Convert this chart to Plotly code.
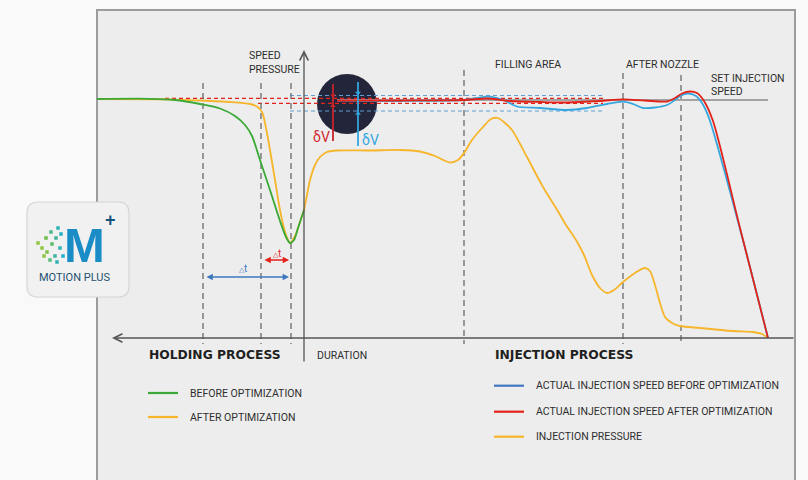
import plotly.graph_objects as go

# ---------------- data (x = time position, y = screen level) -------------
green_x = [97, 150, 175, 200, 220, 235, 245, 252, 260, 270, 280, 286, 290, 294, 298, 304]
green_y = [99, 98.8, 100, 104, 108.5, 116, 125, 136, 160, 190, 221, 237, 243, 240, 228, 210]

after_x = [97, 165, 200, 230, 250, 257, 262, 266, 270, 275, 280, 285, 288, 290, 295, 300, 304]
after_y = [99, 99.3, 100.5, 102, 104, 106.5, 112, 128, 150, 180, 210, 232, 240, 243, 236, 222, 210]

pressure_x = [304, 307, 310, 315, 320, 327, 337, 370, 400, 420, 435, 450, 458, 464, 472, 483, 491, 498,
              505, 512, 527, 543, 556, 566, 576, 584, 592, 600, 607, 614, 623, 635, 645, 650, 655, 660,
              665, 672, 680, 700, 733, 753, 762, 768]
pressure_y = [210, 195, 180, 165, 157, 152, 150.5, 150.5, 150, 151.5, 156, 162.5, 160, 153, 140, 127, 119, 118,
              123, 130, 157, 187, 208, 225, 240, 255, 275, 288, 293, 290, 282, 273, 268, 271, 285, 303,
              317, 323, 326, 328, 331, 332, 334, 338]

speed_before_x = [337, 400, 463, 478, 487, 497, 507, 517, 540, 567, 587, 607, 623, 633, 643, 655, 667,
                  675, 680, 688, 696, 702, 709, 740, 768]
speed_before_y = [100.7, 101, 100, 98, 96.7, 98, 101.7, 106.5, 108, 110, 108, 104, 101.7, 104, 108, 107.5, 105,
                  100, 96, 93.5, 96, 103, 118, 229, 338]

speed_after_x = [337, 400, 464, 487, 510, 540, 567, 600, 623, 645, 667, 675, 682, 690, 697, 704, 713,
                 740, 768]
speed_after_y = [100.5, 100.5, 100, 98.5, 101, 102, 102.5, 101, 99.3, 100.5, 101.5, 98, 93.5, 91.5, 93, 101,
                 121, 228, 338]

set_speed_x = [337, 768]
set_speed_y = [100, 100]

phase_x = [203, 261, 291, 464, 623, 681]
phase_top = [83, 83, 83, 70, 73, 75]

tol_red = [98.3, 103.3]
tol_blue = [95.5, 111]

logo_dot_x = [38, 42, 46, 47, 51, 52, 55, 56, 58, 60, 61, 63, 44, 50, 57]
logo_dot_y = [243, 248, 238, 252, 232, 244, 256, 238, 228, 248, 234, 256, 256, 260, 262]
logo_dot_c = ["#8dc63f", "#8dc63f", "#6cbf4a", "#7cc24a", "#4db98a", "#5cbd6f", "#3fb3a0",
              "#3fb39a", "#2db3b4", "#30b2b6", "#27b0c4", "#22aecd", "#8dc63f", "#56bb7b", "#2fb1b3"]

# ---------------- styles ----------------
GREEN = "#3aa935"
YELLOW = "#f6b52a"
RED = "#e2231a"
BLUE = "#33a6de"
BLUE_LEG = "#3f78c0"
TXT = "#2e2e2e"
NARROW = "Liberation Sans Narrow, Arial Narrow, Roboto, sans-serif"
WIDE = "DejaVu Sans, Verdana, sans-serif"
FS = 10.5

fig = go.Figure()

shapes = []
# panel
shapes.append(dict(type="rect", x0=97, x1=795, y0=10, y1=490, fillcolor="#ededed",
                   line=dict(color="#9c9c9c", width=2), layer="below"))
# logo box
x0, x1, y0, y1, r = 27, 129, 202, 297, 11
path = (f"M{x0+r},{y0} L{x1-r},{y0} Q{x1},{y0} {x1},{y0+r} L{x1},{y1-r} Q{x1},{y1} {x1-r},{y1} "
        f"L{x0+r},{y1} Q{x0},{y1} {x0},{y1-r} L{x0},{y0+r} Q{x0},{y0} {x0+r},{y0} Z")
shapes.append(dict(type="path", path=path, fillcolor="#f1f1f1", line=dict(color="#d6d6d6", width=1.2),
                   layer="below"))
# circle
shapes.append(dict(type="circle", x0=317, x1=377, y0=74, y1=134, fillcolor="#23253a",
                   line=dict(width=0), layer="below"))
# tolerance dashed lines
shapes.append(dict(type="line", x0=165, x1=603, y0=tol_red[0], y1=tol_red[0],
                   line=dict(color=RED, width=1.2, dash="4px,3px"), layer="below"))
shapes.append(dict(type="line", x0=258, x1=603, y0=tol_red[1], y1=tol_red[1],
                   line=dict(color=RED, width=1.2, dash="4px,3px"), layer="below"))
for yv in tol_blue:
    shapes.append(dict(type="line", x0=290, x1=603, y0=yv, y1=yv,
                       line=dict(color="#5f9fd6", width=1.2, dash="4px,3px"), layer="below"))
# phase dashed verticals
for xv, yt in zip(phase_x, phase_top):
    shapes.append(dict(type="line", x0=xv, x1=xv, y0=yt, y1=344,
                       line=dict(color="#6a6a6a", width=1.3, dash="6px,4px"), layer="below"))
# dV lines
shapes.append(dict(type="line", x0=333, x1=333, y0=84, y1=141, line=dict(color="#c8242b", width=1.8),
                   layer="above"))
shapes.append(dict(type="line", x0=358, x1=358, y0=82, y1=146, line=dict(color=BLUE, width=1.8),
                   layer="above"))

# ---------------- traces ----------------
def line(x, y, color, width=1.8, shape="spline"):
    fig.add_trace(go.Scatter(x=x, y=y, mode="lines", line=dict(color=color, width=width, shape=shape,
                                                               smoothing=0.8),
                             showlegend=False, hoverinfo="skip"))

line(set_speed_x, set_speed_y, "#a3a3a3", 2.2, "linear")
line(pressure_x, pressure_y, YELLOW)
line(after_x, after_y, YELLOW)
line(green_x, green_y, GREEN)
line(speed_before_x, speed_before_y, BLUE)
line(speed_after_x, speed_after_y, RED)

# dV arrowheads
fig.add_trace(go.Scatter(x=[333, 333], y=[tol_red[0] - 2.5, tol_red[1] + 2.5], mode="markers",
                         marker=dict(symbol=["triangle-down", "triangle-up"], size=5, color="#c8242b"),
                         showlegend=False, hoverinfo="skip"))
fig.add_trace(go.Scatter(x=[358, 358], y=[tol_blue[0] - 2.5, tol_blue[1] + 2.5], mode="markers",
                         marker=dict(symbol=["triangle-down", "triangle-up"], size=5, color=BLUE),
                         showlegend=False, hoverinfo="skip"))

# logo dots
fig.add_trace(go.Scatter(x=logo_dot_x, y=logo_dot_y, mode="markers",
                         marker=dict(symbol="square", size=3.5, color=logo_dot_c),
                         showlegend=False, hoverinfo="skip"))

# legend samples
legend_left = [("BEFORE OPTIMIZATION", GREEN, 393), ("AFTER OPTIMIZATION", YELLOW, 417)]
legend_right = [("ACTUAL INJECTION SPEED BEFORE OPTIMIZATION", BLUE_LEG, 385.7),
                ("ACTUAL INJECTION SPEED AFTER OPTIMIZATION", RED, 411.7),
                ("INJECTION PRESSURE", YELLOW, 436.7)]
for name, col, yv in legend_left:
    line([148, 178], [yv, yv], col, 2.2, "linear")
for name, col, yv in legend_right:
    line([494, 524], [yv, yv], col, 2.2, "linear")

# ---------------- annotations ----------------
ann = []

def txt(x, y, s, size=FS, color=TXT, family=NARROW, anchor="left", bold=False):
    ann.append(dict(x=x, y=y, text=(f"<b>{s}</b>" if bold else s), showarrow=False, xanchor=anchor,
                    yanchor="middle", font=dict(size=size, color=color, family=family)))

txt(247, 55, "SPEED")
txt(247, 69, "PRESSURE")
txt(493, 64, "FILLING AREA")
txt(624, 64, "AFTER NOZZLE")
txt(709, 78, "SET INJECTION")
txt(709, 91, "SPEED")
txt(147, 355, "HOLDING PROCESS", size=12.3, color="#1f1f1f", family=WIDE, bold=True)
txt(493, 355, "INJECTION PROCESS", size=12.3, color="#1f1f1f", family=WIDE, bold=True)
txt(315, 355, "DURATION")
for name, col, yv in legend_left:
    txt(188, yv, name)
for name, col, yv in legend_right:
    txt(534, yv, name)

txt(332, 137, "δV", size=14, color="#d4262d", anchor="right")
txt(360, 140, "δV", size=14, color=BLUE)
txt(277, 253, "<span style='font-size:7px'>△</span>t", size=10, color=RED, anchor="center")
txt(243, 268, "<span style='font-size:7px'>△</span>t", size=10, color=BLUE_LEG, anchor="center")

# logo text
txt(84, 245, "M", size=49, color="#1a8cc6", family="Liberation Sans, Arial, sans-serif", anchor="center",
    bold=True)
txt(110, 220, "+", size=18, color="#15527c", family="Liberation Sans, Arial, sans-serif", anchor="center",
    bold=True)
txt(74, 277, "MOTION PLUS", size=11, color="#1d5271", family="Roboto, sans-serif", anchor="center")

# axes arrows
ann.append(dict(x=304, y=50, ax=304, ay=363, axref="x", ayref="y", xref="x", yref="y", text="",
                showarrow=True, arrowhead=5, arrowsize=1.3, arrowwidth=1.3, arrowcolor="#555555"))
ann.append(dict(x=112, y=338, ax=795, ay=338, axref="x", ayref="y", xref="x", yref="y", text="",
                showarrow=True, arrowhead=5, arrowsize=1.3, arrowwidth=1.3, arrowcolor="#555555"))
# delta t arrows
ann.append(dict(x=289, y=260, ax=263, ay=260, axref="x", ayref="y", text="", showarrow=True,
                arrowside="end+start", arrowhead=2, startarrowhead=2, arrowsize=0.9, startarrowsize=0.9,
                arrowwidth=1.4, arrowcolor=RED))
ann.append(dict(x=289, y=277, ax=205, ay=277, axref="x", ayref="y", text="", showarrow=True,
                arrowside="end+start", arrowhead=2, startarrowhead=2, arrowsize=0.9, startarrowsize=0.9,
                arrowwidth=1.4, arrowcolor=BLUE_LEG))

fig.update_layout(
    width=808, height=480, margin=dict(l=0, r=0, t=0, b=0),
    paper_bgcolor="#f9f9f9", plot_bgcolor="#f9f9f9",
    xaxis=dict(range=[0, 808], visible=False, fixedrange=True),
    yaxis=dict(range=[480, 0], visible=False, fixedrange=True),
    shapes=shapes, annotations=ann, showlegend=False,
)

fig.write_html("out.html", config={"displayModeBar": False},
               post_script="document.body.style.margin='0';document.body.style.overflow='hidden';")
